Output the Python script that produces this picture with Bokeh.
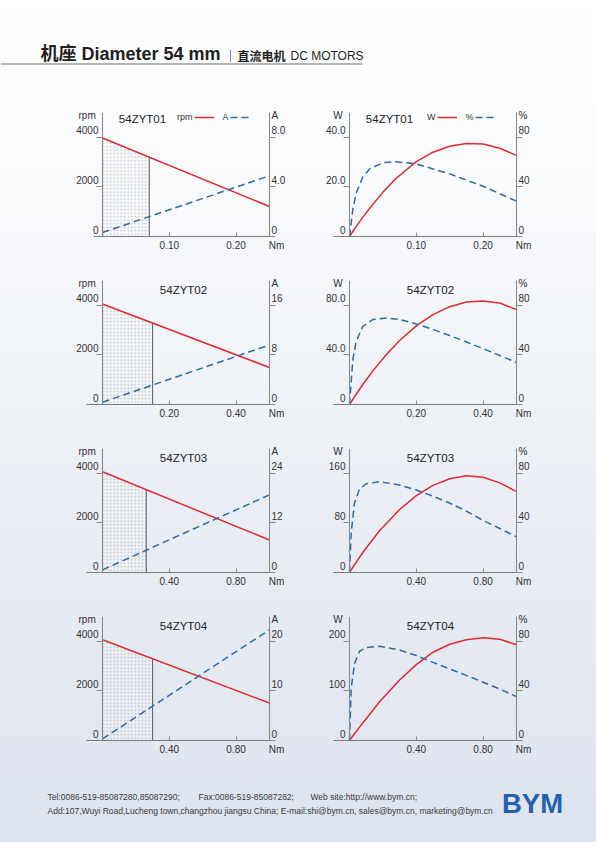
from bokeh.plotting import figure
from bokeh.models import (Range1d, LinearAxis, FixedTicker, ColumnDataSource,
                          Label, Legend, LegendItem)
from bokeh.layouts import column, row
from bokeh.embed import file_html
from bokeh.resources import INLINE

motors = ["54ZYT01", "54ZYT02", "54ZYT03", "54ZYT04"]
torque_max = [0.25, 0.50, 1.00, 1.00]
torque_ticks = [[0.10, 0.20], [0.20, 0.40], [0.40, 0.80], [0.40, 0.80]]
torque_tick_labels = [["0.10", "0.20"], ["0.20", "0.40"], ["0.40", "0.80"], ["0.40", "0.80"]]
torque_unit = "Nm"

speed_ticks = [0, 2000, 4000]
speed_tick_labels = ["0", "2000", "4000"]
speed_unit = "rpm"
current_ticks = [[0, 4, 8], [0, 8, 16], [0, 12, 24], [0, 10, 20]]
current_tick_labels = [["0", "4.0", "8.0"], ["0", "8", "16"], ["0", "12", "24"], ["0", "10", "20"]]
current_unit = "A"
power_ticks = [[0, 20, 40], [0, 40, 80], [0, 80, 160], [0, 100, 200]]
power_tick_labels = [["0", "20.0", "40.0"], ["0", "40.0", "80.0"], ["0", "80", "160"], ["0", "100", "200"]]
power_unit = "W"
eff_ticks = [0, 40, 80]
eff_tick_labels = ["0", "40", "80"]
eff_unit = "%"

speed_no_load = [3970, 4050, 4060, 4060]
speed_at_max_torque = [1210, 1490, 1310, 1510]
current_no_load = [0.32, 0.37, 0.64, 0.33]
current_at_max_torque = [4.9, 9.6, 18.8, 22.3]
rated_torque = [0.070, 0.150, 0.262, 0.300]
rated_speed = [3230, 3290, 3350, 3310]

torque_01 = [0, 0.005, 0.01, 0.02, 0.03, 0.05, 0.07, 0.10, 0.125, 0.15, 0.175, 0.20, 0.225, 0.25]
power_01 = [0, 2.0, 4.0, 7.8, 11.3, 17.9, 23.5, 30.2, 34.0, 36.4, 37.5, 37.3, 35.6, 32.7]
eff_01 = [0, 22, 35, 48, 54.5, 59.5, 60.3, 58.5, 54.5, 50.5, 45.5, 40.5, 34.5, 28.5]

torque_02 = [0, 0.01, 0.02, 0.04, 0.07, 0.11, 0.15, 0.20, 0.25, 0.30, 0.35, 0.40, 0.45, 0.50]
power_02 = [0, 4.2, 8.3, 16.1, 27.1, 40.2, 51.6, 63.4, 72.5, 78.9, 82.6, 83.5, 81.8, 76.5]
eff_02 = [0, 36, 51, 63, 68.5, 69.8, 68.5, 65.0, 60.6, 55.6, 50.4, 45.1, 39.5, 33.9]

torque_03 = [0, 0.01, 0.03, 0.06, 0.10, 0.18, 0.30, 0.40, 0.50, 0.60, 0.70, 0.80, 0.90, 1.00]
power_03 = [0, 4.2, 12.5, 24.5, 39.6, 67.2, 101.6, 123.9, 140.5, 151.3, 156.0, 153.5, 144.5, 130.5]
eff_03 = [0, 32, 56, 67.5, 71.5, 73.3, 70.5, 66.5, 61.5, 56, 49.5, 42, 35.5, 28.7]

torque_04 = [0, 0.01, 0.03, 0.06, 0.10, 0.18, 0.30, 0.40, 0.50, 0.60, 0.70, 0.80, 0.90, 1.00]
power_04 = [0, 4.5, 13.5, 27, 44, 78, 122, 153, 178, 194, 203, 207, 204, 193]
eff_04 = [0, 42, 62, 72, 75, 76, 73, 68.5, 63, 57.7, 52.5, 47, 41.5, 35.4]

curve_torque = [torque_01, torque_02, torque_03, torque_04]
curve_power = [power_01, power_02, power_03, power_04]
curve_eff = [eff_01, eff_02, eff_03, eff_04]

title_text = "机座 Diameter 54 mm"
subtitle_cn = "直流电机"
subtitle_en = "DC MOTORS"
footer_tel = "Tel:0086-519-85087280,85087290;"
footer_fax = "Fax:0086-519-85087282;"
footer_web = "Web site:http://www.bym.cn;"
footer_addr = ("Add:107,Wuyi Road,Lucheng town,changzhou jiangsu China;  "
               "E-mail:shi@bym.cn, sales@bym.cn, marketing@bym.cn")
logo_text = "BYM"

# ---------------- style ----------------
FONT = "Liberation Sans"
CJK = "Liberation Sans, Noto Sans CJK SC"
RED = "#de2a30"
BLUE = "#2d6aa6"
AXIS = "#8a8a8a"
TXT = "#333333"
PAGE_W, PAGE_H = 596, 842
COL_W = [298, 298]
ROW_H = 168
HEAD_H = 85
FOOT_H = PAGE_H - HEAD_H - 4 * ROW_H
TOP, BOT = 27, 16
FRAME_H = ROW_H - TOP - BOT          # 125 px
SPAN_PX = 167                        # pixels between the two vertical axes
PAD_PX = [9, 16, 16, 16]             # x-axis line runs past the left axis
TICK_PX = 6
LABEL_LIFT_PX = 6.5                  # tick labels sit above their ticks
UNIT_DROP_PX = 3
NBSP = "\u00a0"
TITLE_DX = [40, 81, 81, 81]
TITLE_DY = [-6, -9, -9, -9]


def base_fig(width, min_left, min_right, xmax, ymax, pad_px):
    pad = xmax * pad_px / SPAN_PX
    p = figure(width=width, height=ROW_H, output_backend="svg", toolbar_location=None,
               tools="", x_range=Range1d(-pad, xmax), y_range=Range1d(0, ymax),
               x_axis_location=None, y_axis_location=None,
               min_border_left=min_left, min_border_right=min_right,
               min_border_top=TOP, min_border_bottom=BOT)
    p.background_fill_color = None
    p.border_fill_color = None
    p.outline_line_color = None
    p.grid.visible = False
    return p


def style_tick_axis(ax):
    ax.axis_line_color = AXIS
    ax.axis_line_width = 1.1
    ax.major_tick_line_color = None
    ax.minor_tick_line_color = AXIS
    ax.minor_tick_line_width = 1
    ax.major_label_standoff = 0


def left_tick_axis(p, ticks):
    """Left axis line at x = 0 with outward tick marks (drawn from the right panel
    with 'in' ticks so that they point left)."""
    ax = LinearAxis(ticker=FixedTicker(ticks=[], minor_ticks=ticks), fixed_location=0)
    style_tick_axis(ax)
    ax.major_tick_out = 0
    ax.minor_tick_in = TICK_PX
    ax.minor_tick_out = 0
    p.add_layout(ax, "right")


def right_tick_axis(p, ticks, range_name):
    ax = LinearAxis(ticker=FixedTicker(ticks=[], minor_ticks=ticks), y_range_name=range_name)
    style_tick_axis(ax)
    ax.major_tick_out = TICK_PX
    ax.minor_tick_in = 0
    ax.minor_tick_out = TICK_PX
    p.add_layout(ax, "right")


def label_axis(p, ticks, labels, unit, ymax, side, standoff, range_name="default"):
    lift = ymax * LABEL_LIFT_PX / FRAME_H
    pos = [round(t + lift, 6) for t in ticks] + [round(ymax - ymax * UNIT_DROP_PX / FRAME_H, 6)]
    unit_txt = unit + NBSP if side == "left" else unit
    texts = list(labels) + [unit_txt]
    ax = LinearAxis(ticker=FixedTicker(ticks=pos), y_range_name=range_name,
                    major_label_overrides={k: t for k, t in zip(pos, texts)})
    ax.axis_line_color = None
    ax.major_tick_line_color = None
    ax.minor_tick_line_color = None
    ax.major_tick_out = 0
    ax.major_tick_in = 0
    ax.major_label_standoff = standoff
    ax.major_label_text_font = FONT
    ax.major_label_text_font_size = "10px"
    ax.major_label_text_color = TXT
    p.add_layout(ax, side)


def x_axis(p, i):
    xmax = torque_max[i]
    ticks = list(torque_ticks[i]) + [xmax]
    texts = list(torque_tick_labels[i]) + [NBSP * 5 + torque_unit]
    ax = LinearAxis(ticker=FixedTicker(ticks=ticks),
                    major_label_overrides={t: l for t, l in zip(ticks, texts)})
    ax.axis_line_color = "#7a7a7a"
    ax.axis_line_width = 1.1
    ax.major_tick_line_color = AXIS
    ax.major_tick_in = 4
    ax.major_tick_out = 0
    ax.minor_tick_line_color = None
    ax.major_label_standoff = 3
    ax.major_label_text_font = FONT
    ax.major_label_text_font_size = "10px"
    ax.major_label_text_color = TXT
    p.add_layout(ax, "below")


def axes(p, pad_px, lt, ll, lu, ymax, rt, rl, ru, rmax, rname):
    # left: labels only (frame edge is pad_px left of the axis line)
    label_axis(p, lt, ll, lu, ymax, "left", -(pad_px - 4))
    # right: tick axis first (adjacent to frame), then labels, then left tick axis
    right_tick_axis(p, rt, rname)
    label_axis(p, rt, rl, ru, rmax, "right", 2 - TICK_PX, rname)
    left_tick_axis(p, lt)


def title(p, i, ymax):
    p.add_layout(Label(x=0, y=ymax, text=motors[i], x_offset=TITLE_DX[i], y_offset=TITLE_DY[i],
                       text_align="center", text_baseline="middle", text_font=FONT,
                       text_font_size="11.5px", text_color="#222222"))


def add_legend(p, blank, r1, r2, l1, l2, loc):
    lg = Legend(items=[LegendItem(label=l1, renderers=[blank]),
                       LegendItem(label=l2, renderers=[r1]),
                       LegendItem(label=" ", renderers=[r2])],
                orientation="horizontal", location=loc, glyph_width=20, glyph_height=12,
                label_height=12, label_width=0, label_standoff=9, spacing=1, padding=0,
                margin=0, border_line_color=None, background_fill_alpha=0,
                label_text_font=FONT, label_text_font_size="9px", label_text_color=TXT)
    p.add_layout(lg)


def speed_fig(i):
    xmax = torque_max[i]
    ymax = speed_ticks[-1] * 1.25
    cmax = current_ticks[i][-1] * 1.25
    pad_px = PAD_PX[i]
    p = base_fig(COL_W[0], 102 - pad_px, 29, xmax, ymax, pad_px)
    p.extra_y_ranges = {"amp": Range1d(0, cmax)}
    axes(p, pad_px, speed_ticks, speed_tick_labels, speed_unit, ymax,
         current_ticks[i], current_tick_labels[i], current_unit, cmax, "amp")
    x_axis(p, i)

    area = ColumnDataSource(dict(x=[0, rated_torque[i]], y1=[0, 0],
                                 y2=[speed_no_load[i], rated_speed[i]]))
    p.varea(x="x", y1="y1", y2="y2", source=area, fill_alpha=0.35, fill_color="#ffffff",
            hatch_pattern="dot", hatch_color="#9ba1a9", hatch_scale=3.5, hatch_weight=1,
            hatch_alpha=0.65)
    p.segment(x0=[rated_torque[i]], y0=[0], x1=[rated_torque[i]], y1=[rated_speed[i]],
              line_color="#5a5a5a", line_width=1)

    sp = ColumnDataSource(dict(t=[0, xmax], n=[speed_no_load[i], speed_at_max_torque[i]]))
    cu = ColumnDataSource(dict(t=[0, xmax], a=[current_no_load[i], current_at_max_torque[i]]))
    r1 = p.line("t", "n", source=sp, line_color=RED, line_width=1.5)
    r2 = p.line("t", "a", source=cu, y_range_name="amp", line_color=BLUE, line_width=1.5,
                line_dash="7 4")
    title(p, i, ymax)
    if i == 0:
        blank = p.line(x=[], y=[], line_alpha=0)
        add_legend(p, blank, r1, r2, speed_unit, current_unit, (62 + pad_px - 16, 113))
    return p


def power_fig(i):
    xmax = torque_max[i]
    ymax = power_ticks[i][-1] * 1.25
    emax = eff_ticks[-1] * 1.25
    pad_px = 16
    p = base_fig(COL_W[1], 35, 80, xmax, ymax, pad_px)
    p.extra_y_ranges = {"eff": Range1d(0, emax)}
    axes(p, pad_px, power_ticks[i], power_tick_labels[i], power_unit, ymax,
         eff_ticks, eff_tick_labels, eff_unit, emax, "eff")
    x_axis(p, i)

    src = ColumnDataSource(dict(t=curve_torque[i], w=curve_power[i], e=curve_eff[i]))
    r1 = p.line("t", "w", source=src, line_color=RED, line_width=1.5)
    r2 = p.line("t", "e", source=src, y_range_name="eff", line_color=BLUE, line_width=1.5,
                line_dash="7 4")
    title(p, i, ymax)
    if i == 0:
        blank = p.line(x=[], y=[], line_alpha=0)
        add_legend(p, blank, r1, r2, power_unit, eff_unit, (65, 113))
    return p


def canvas(h):
    p = figure(width=PAGE_W, height=h, output_backend="svg", toolbar_location=None, tools="",
               x_range=Range1d(0, PAGE_W), y_range=Range1d(0, h),
               x_axis_location=None, y_axis_location=None, min_border=0)
    p.background_fill_color = None
    p.border_fill_color = None
    p.outline_line_color = None
    p.grid.visible = False
    return p


# ---------------- header ----------------
head = canvas(HEAD_H)
head.segment(x0=[0], y0=[21.5], x1=[362], y1=[21.5], line_color="#9b9b9b", line_width=1.6)
head.segment(x0=[230], y0=[23], x1=[230], y1=[36], line_color="#8a8a8a", line_width=1)
head.add_layout(Label(x=40, y=31.5, text=title_text, text_font=CJK, text_font_size="18px",
                      text_font_style="bold", text_color="#231f20", text_baseline="middle"))
head.add_layout(Label(x=237, y=30, text=subtitle_cn, text_font="Noto Sans CJK SC",
                      text_font_size="12px", text_font_style="bold", text_color="#231f20",
                      text_baseline="middle"))
head.add_layout(Label(x=290, y=30, text=subtitle_en, text_font=FONT, text_font_size="12px",
                      text_color="#231f20", text_baseline="middle"))

# ---------------- footer ----------------
foot = canvas(FOOT_H)
for x, t in [(47, footer_tel), (198, footer_fax), (310, footer_web)]:
    foot.add_layout(Label(x=x, y=46, text=t, text_font=FONT, text_font_size="8.5px",
                          text_color="#3a3a3a", text_baseline="middle"))
foot.add_layout(Label(x=47, y=32, text=footer_addr, text_font=FONT, text_font_size="8.5px",
                      text_color="#3a3a3a", text_baseline="middle"))
foot.add_layout(Label(x=532, y=39, text=logo_text, text_font=FONT, text_font_size="27.5px",
                      text_font_style="bold", text_color="#2461ac", text_align="center",
                      text_baseline="middle"))

rows = [row(speed_fig(i), power_fig(i)) for i in range(4)]
layout = column(head, *rows, foot,
                styles={"background": "linear-gradient(180deg, #ffffff 0%, #fbfcfd 15%, "
                                       "#eef1f6 50%, #dde3ee 100%)"})

open("out.html", "w").write(file_html(layout, INLINE))
